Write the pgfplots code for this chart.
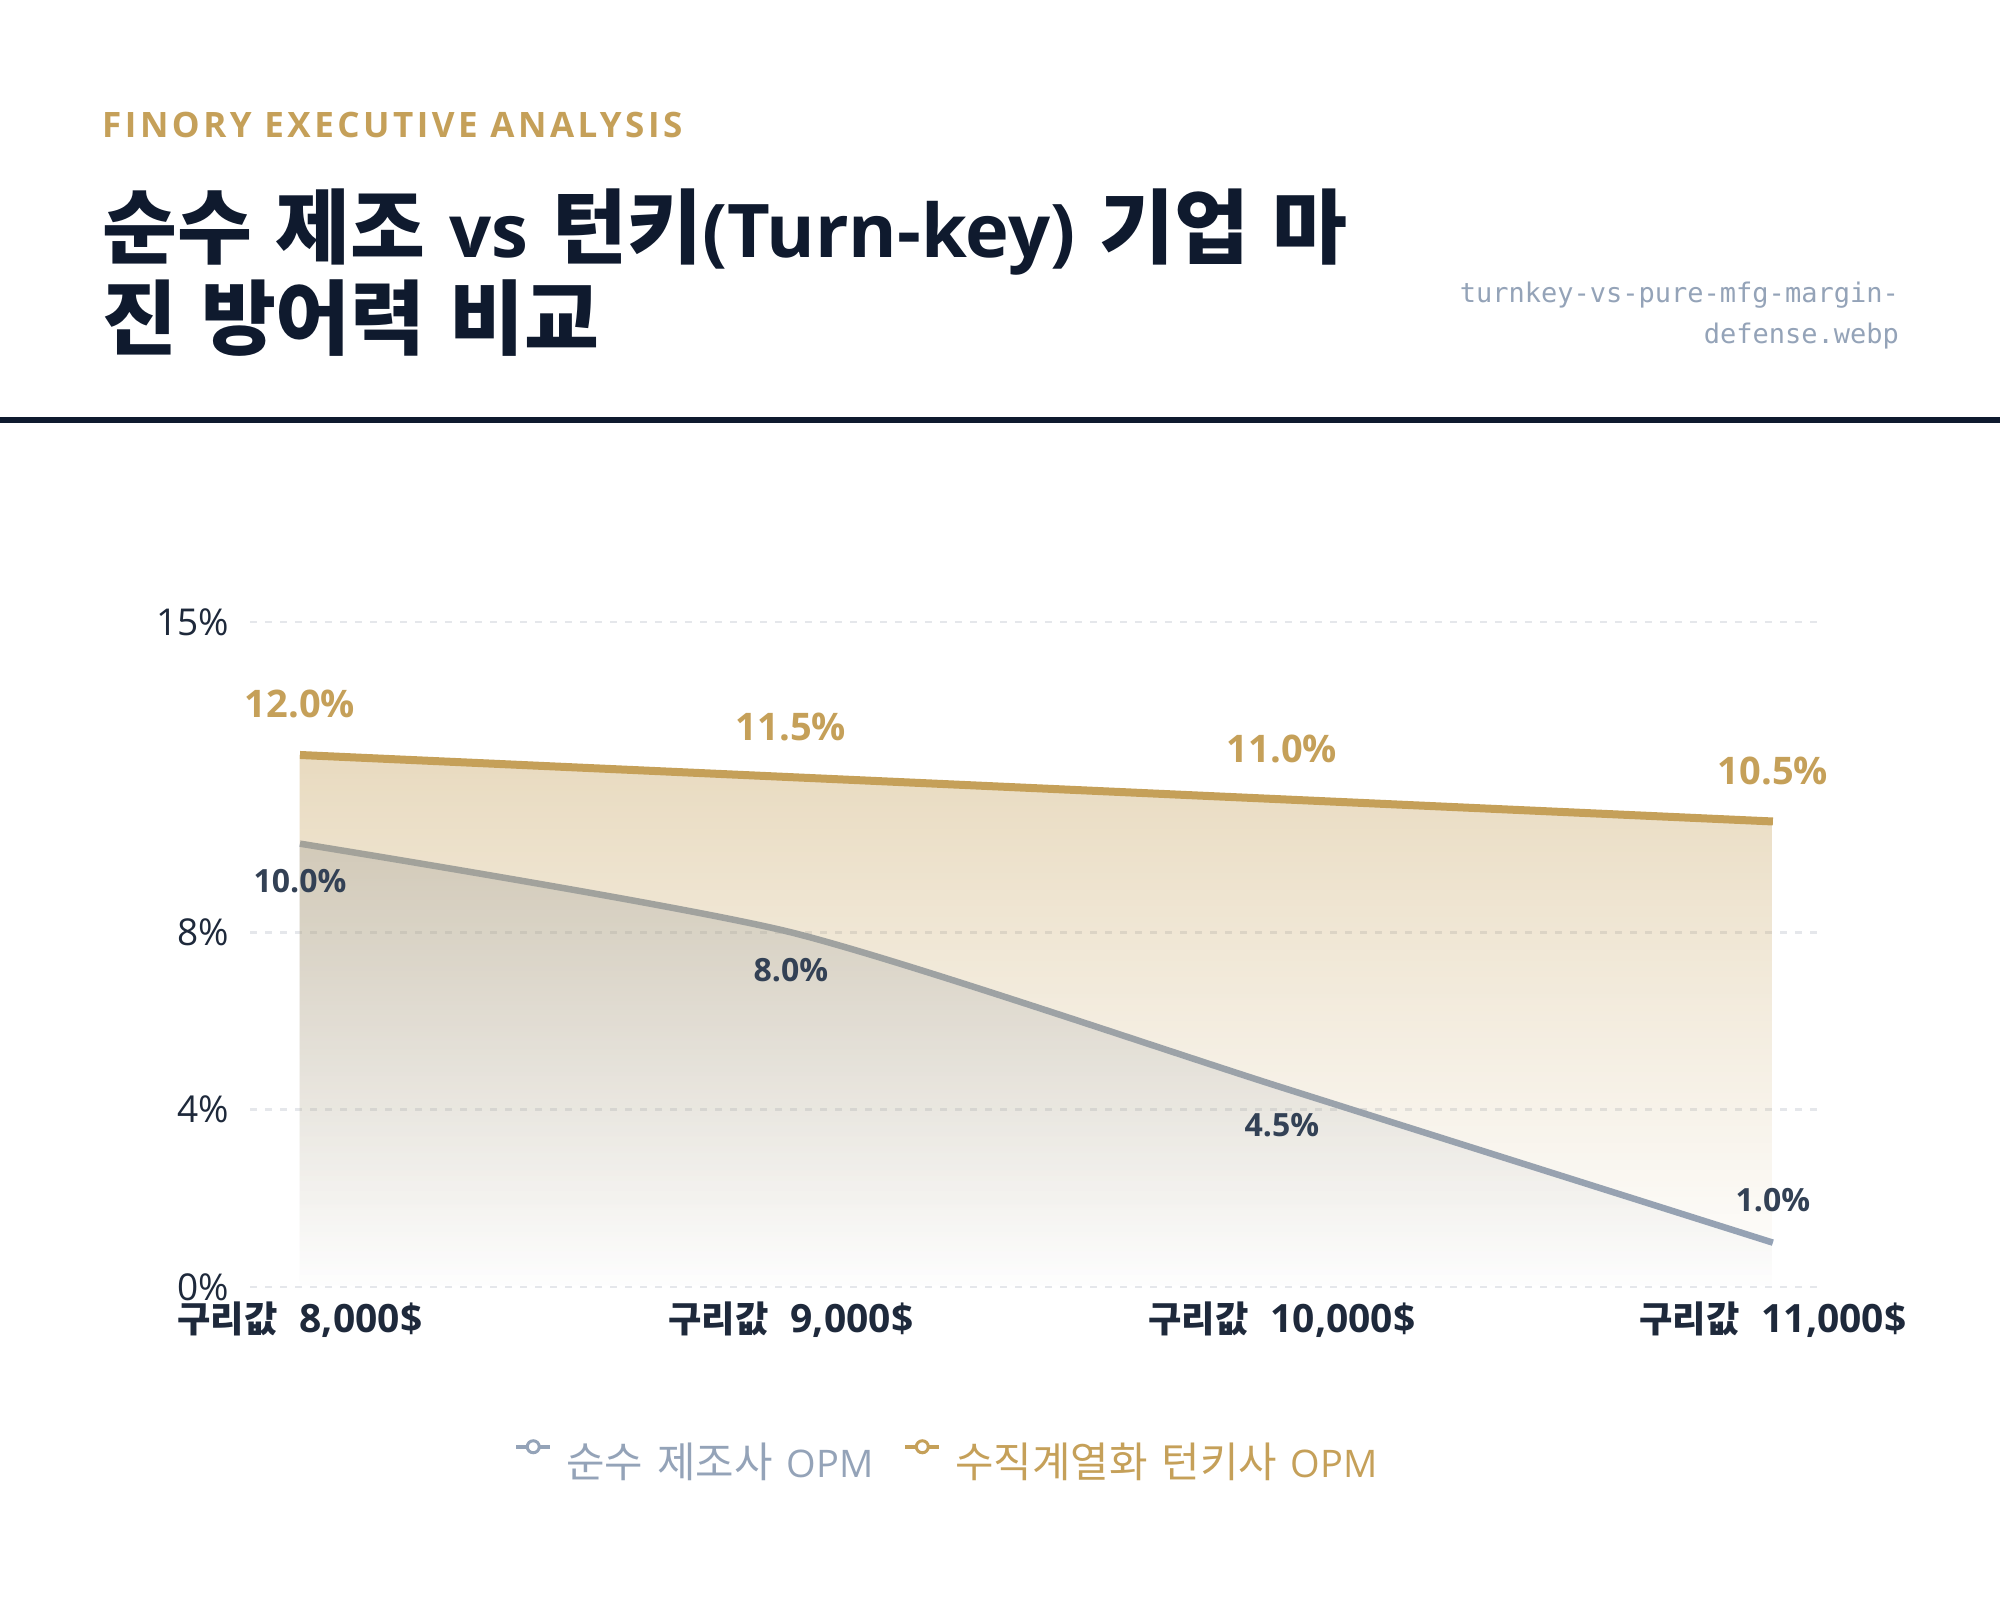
\documentclass[border=0pt]{standalone}
\usepackage{pgfplots}
\pgfplotsset{compat=1.18}
\usetikzlibrary{fadings}
\usepackage{fontspec}
\setmainfont{Open Sans}
\newfontfamily\lafont{Open Sans}
\newfontfamily\krfont{Noto Sans CJK KR}
\newfontfamily\krfontbig{Noto Sans CJK KR}[Scale=1.1]
\newfontfamily\krfontsmall{Noto Sans CJK KR}[Scale=0.93]
\newfontfamily\monofont{DejaVu Sans Mono}
\let\krsel\krfont
\newcommand\wsp[1]{\spaceskip=#1\relax}
\newcommand\usebig{\let\krsel\krfontbig}
\newcommand\usesmall{\let\krsel\krfontsmall}
\XeTeXinterchartokenstate=1
\newXeTeXintercharclass\krclass
\newcount\kc
\kc="AC00
\loop
  \XeTeXcharclass\kc=\krclass
  \advance\kc by 1
  \ifnum\kc<"D7A4 \repeat
\XeTeXinterchartoks 0 \krclass = {\krsel}
\XeTeXinterchartoks 4095 \krclass = {\krsel}
\XeTeXinterchartoks \krclass 0 = {\lafont}
\XeTeXinterchartoks \krclass 4095 = {\lafont}

\definecolor{goldc}{HTML}{C5A059}
\definecolor{grayc}{HTML}{94A3B8}
\definecolor{navy}{HTML}{0F1A2E}
\definecolor{tickc}{HTML}{1E293B}
\definecolor{lblc}{HTML}{334155}
\definecolor{gridc}{HTML}{E5E7EB}
\tikzfading[name=fadedown, top color=transparent!0, bottom color=transparent!100]

\begin{document}
\begin{tikzpicture}[x=1bp,y=1bp]
\fill[white] (0,0) rectangle (2000,1622);
\useasboundingbox (0,0) rectangle (2000,1622);
% header
\node[anchor=base west, inner sep=0pt, text=goldc, font=\fontsize{35bp}{40bp}\selectfont\bfseries\addfontfeatures{LetterSpace=10}] at (102,1484) {FINORY EXECUTIVE ANALYSIS};
\node[anchor=base west, inner sep=0pt, text=navy, align=left, font=\fontsize{74bp}{91bp}\selectfont\bfseries\usebig\wsp{24bp}] at (102,1273) {순수 제조 vs 턴키(Turn-key) 기업 마\\진 방어력 비교};
\node[anchor=base east, inner sep=0pt, text=grayc, font=\fontsize{27bp}{30bp}\monofont] at (1899,1319) {turnkey-vs-pure-mfg-margin-};
\node[anchor=base east, inner sep=0pt, text=grayc, font=\fontsize{27bp}{30bp}\monofont] at (1899,1278) {defense.webp};
\fill[navy] (0,1199) rectangle (2000,1205);

\begin{axis}[
  at={(250bp,335bp)}, anchor=south west,
  scale only axis, width=1568bp, height=665bp,
  xmin=-0.1018, xmax=3.092, ymin=0, ymax=15,
  clip=false,
  axis line style={draw=none},
  major tick length=0pt,
  ytick={0,4,8,15},
  yticklabels={0\%,4\%,8\%,15\%},
  xtick={0,1,2,3},
  xticklabels={{구리값 8,000\$},{구리값 9,000\$},{구리값 10,000\$},{구리값 11,000\$}},
  ymajorgrids,
  grid style={gridc, line width=2.5bp, dash pattern=on 7bp off 8bp},
  yticklabel style={font=\fontsize{37bp}{40bp}\selectfont, text=tickc, anchor=east, inner sep=0pt, xshift=-21bp},
  xticklabel style={font=\fontsize{39bp}{40bp}\selectfont\bfseries\usesmall\wsp{22bp}, text=tickc, anchor=base, inner sep=0pt, yshift=-46bp},
  legend columns=2,
  legend style={at={(0.1684,-0.2587)}, anchor=west, draw=none, fill=none, inner sep=0pt,
    font=\fontsize{38bp}{40bp}\selectfont\usebig\wsp{14bp},
    nodes={inner sep=0pt},
    /tikz/every odd column/.append style={column sep=14bp},
    /tikz/every even column/.append style={column sep=30bp}},
  legend image code/.code={
    \draw[line width=4bp] (0bp,14bp) -- (34bp,14bp);
    \draw[line width=3bp, fill=white] (17bp,14bp) circle (6bp);
  },
]
% gray area
\addplot[draw=none, fill=grayc, fill opacity=0.35, path fading=fadedown, smooth, tension=0.4, forget plot]
  coordinates {(0,10) (1,8) (2,4.5) (3,1)} \closedcycle;
% gray line
\addplot[grayc, line width=6.5bp, smooth, tension=0.4, mark=none]
  coordinates {(0,10) (1,8) (2,4.5) (3,1)};
\addlegendentry{\textcolor{grayc}{순수 제조사 OPM}}
% gray labels
\addplot[draw=none, mark=none, forget plot, nodes near coords, point meta=explicit symbolic,
  every node near coord/.append style={font=\fontsize{32bp}{36bp}\selectfont\bfseries, text=lblc, anchor=base, inner sep=0pt, yshift=-49bp}]
  coordinates {(0,10)[10.0\%] (1,8)[8.0\%] (2,4.5)[4.5\%]};
\addplot[draw=none, mark=none, forget plot, nodes near coords, point meta=explicit symbolic,
  every node near coord/.append style={font=\fontsize{32bp}{36bp}\selectfont\bfseries, text=lblc, anchor=base, inner sep=0pt, yshift=31bp}]
  coordinates {(3,1)[1.0\%]};
% gold area
\addplot[draw=none, fill=goldc, fill opacity=0.38, path fading=fadedown, forget plot]
  coordinates {(0,12) (1,11.5) (2,11) (3,10.5)} \closedcycle;
% gold line
\addplot[goldc, line width=8bp, mark=none]
  coordinates {(0,12) (1,11.5) (2,11) (3,10.5)};
\addlegendentry{\textcolor{goldc}{수직계열화 턴키사 OPM}}
\addplot[draw=none, mark=none, forget plot, nodes near coords, point meta=explicit symbolic,
  every node near coord/.append style={font=\fontsize{38bp}{42bp}\selectfont\bfseries, text=goldc, anchor=base, inner sep=0pt, yshift=37bp}]
  coordinates {(0,12)[12.0\%] (1,11.5)[11.5\%] (2,11)[11.0\%] (3,10.5)[10.5\%]};
\end{axis}
\end{tikzpicture}
\end{document}
